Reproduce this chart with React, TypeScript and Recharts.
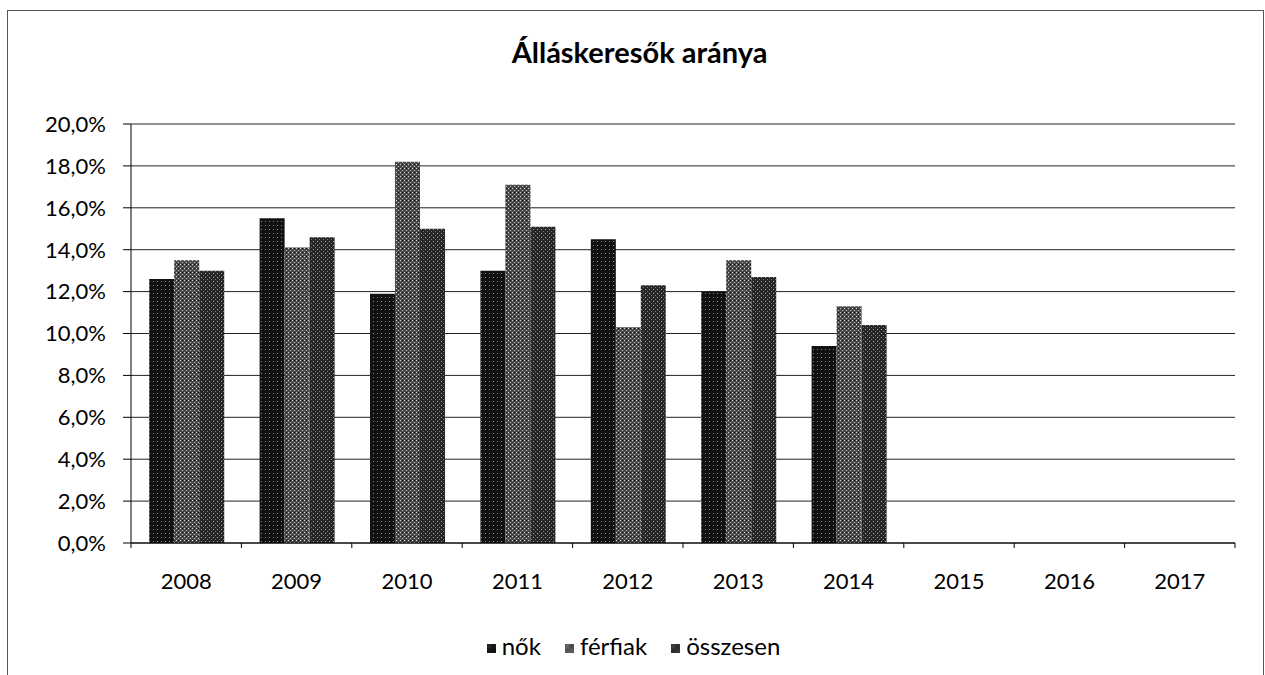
import { Bar, BarChart, CartesianGrid, Legend, XAxis, YAxis } from "recharts";

const years = ["2008", "2009", "2010", "2011", "2012", "2013", "2014", "2015", "2016", "2017"];
const nok = [12.6, 15.5, 11.9, 13.0, 14.5, 12.0, 9.4, null, null, null];
const ferfiak = [13.5, 14.1, 18.2, 17.1, 10.3, 13.5, 11.3, null, null, null];
const osszesen = [13.0, 14.6, 15.0, 15.1, 12.3, 12.7, 10.4, null, null, null];
const yTicks = [0, 2, 4, 6, 8, 10, 12, 14, 16, 18, 20];
const seriesNames = ["nők", "férfiak", "összesen"];

const data = years.map((y, i) => ({
  name: y,
  "nők": nok[i],
  "férfiak": ferfiak[i],
  "összesen": osszesen[i],
}));

const FONT = "Lato, 'Open Sans', sans-serif";
const HALF_BAND = (1265 - 131 - 30) / years.length / 2;

const pct = (v: number) => v.toFixed(1).replace(".", ",") + "%";

const YearTick = (props: any) => {
  const { x, y, payload, index } = props;
  return (
    <g>
      <line x1={x - HALF_BAND} y1={y} x2={x - HALF_BAND} y2={y + 5} stroke="#000" />
      {index === years.length - 1 && (
        <line x1={x + HALF_BAND} y1={y} x2={x + HALF_BAND} y2={y + 5} stroke="#000" />
      )}
      <text x={x} y={y + 46} textAnchor="middle" fill="#000" fontSize={22} fontFamily={FONT}>
        {payload.value}
      </text>
    </g>
  );
};

const App = () => {
  return (
    <div style={{ position: "fixed", left: 0, top: 0, width: 1265, height: 675, background: "#fff", overflow: "hidden" }}>
      <div
        style={{
          position: "absolute",
          left: 7,
          top: 10,
          width: 1255,
          height: 700,
          border: "1px solid #555",
        }}
      />
      <div
        style={{
          position: "absolute",
          left: 7,
          top: 34,
          width: 1265,
          textAlign: "center",
          fontFamily: FONT,
          fontWeight: 700,
          fontSize: 29,
          color: "#000",
        }}
      >
        Álláskeresők aránya
      </div>
      <BarChart
        width={1265}
        height={675}
        data={data}
        margin={{ top: 124, right: 30, left: 0, bottom: 53 }}
        barCategoryGap="16.5%"
        barGap={0}
        style={{ position: "absolute", left: 0, top: 0 }}
      >
        <defs>
          <pattern id="pNok" width="4" height="4" patternUnits="userSpaceOnUse">
            <rect width="4" height="4" fill="#111" />
            <rect x="1" y="1" width="1" height="1" fill="#888" />
          </pattern>
          <pattern id="pFerfiak" width="4" height="4" patternUnits="userSpaceOnUse">
            <rect width="4" height="4" fill="#4a4a4a" />
            <rect x="0" y="0" width="1" height="1" fill="#ddd" />
            <rect x="2" y="2" width="1" height="1" fill="#bbb" />
            <rect x="2" y="0" width="1" height="1" fill="#111" />
          </pattern>
          <pattern id="pOsszesen" width="4" height="4" patternUnits="userSpaceOnUse">
            <rect width="4" height="4" fill="#262626" />
            <rect x="1" y="1" width="1" height="1" fill="#aaa" />
            <rect x="3" y="3" width="1" height="1" fill="#777" />
          </pattern>
        </defs>
        <CartesianGrid vertical={false} stroke="#222" strokeWidth={1} />
        <XAxis
          dataKey="name"
          axisLine={{ stroke: "#000" }}
          tickLine={false}
          tickSize={0}
          tickMargin={0}
          height={50}
          interval={0}
          tick={<YearTick />}
        />
        <YAxis
          width={131}
          domain={[0, 20]}
          ticks={yTicks}
          tickFormatter={pct}
          axisLine={{ stroke: "#000" }}
          tickLine={{ stroke: "#000" }}
          tickSize={8}
          tickMargin={17}
          tick={{ fill: "#000", fontSize: 22, fontFamily: FONT }}
          interval={0}
        />
        <Legend
          verticalAlign="bottom"
          iconType="square"
          iconSize={9}
          itemSorter={(item: any) => seriesNames.indexOf(item.value)}
          wrapperStyle={{ fontFamily: FONT, fontSize: 24, top: 631, bottom: "auto", left: 21 }}
          formatter={(v: string, _e: any, i: number) => (
            <span style={{ color: "#000", marginLeft: 2, marginRight: i < 2 ? 14 : 0 }}>{v}</span>
          )}
        />
        <Bar dataKey="nők" fill="url(#pNok)" isAnimationActive={false} />
        <Bar dataKey="férfiak" fill="url(#pFerfiak)" isAnimationActive={false} />
        <Bar dataKey="összesen" fill="url(#pOsszesen)" isAnimationActive={false} />
      </BarChart>
    </div>
  );
};

export default App;
